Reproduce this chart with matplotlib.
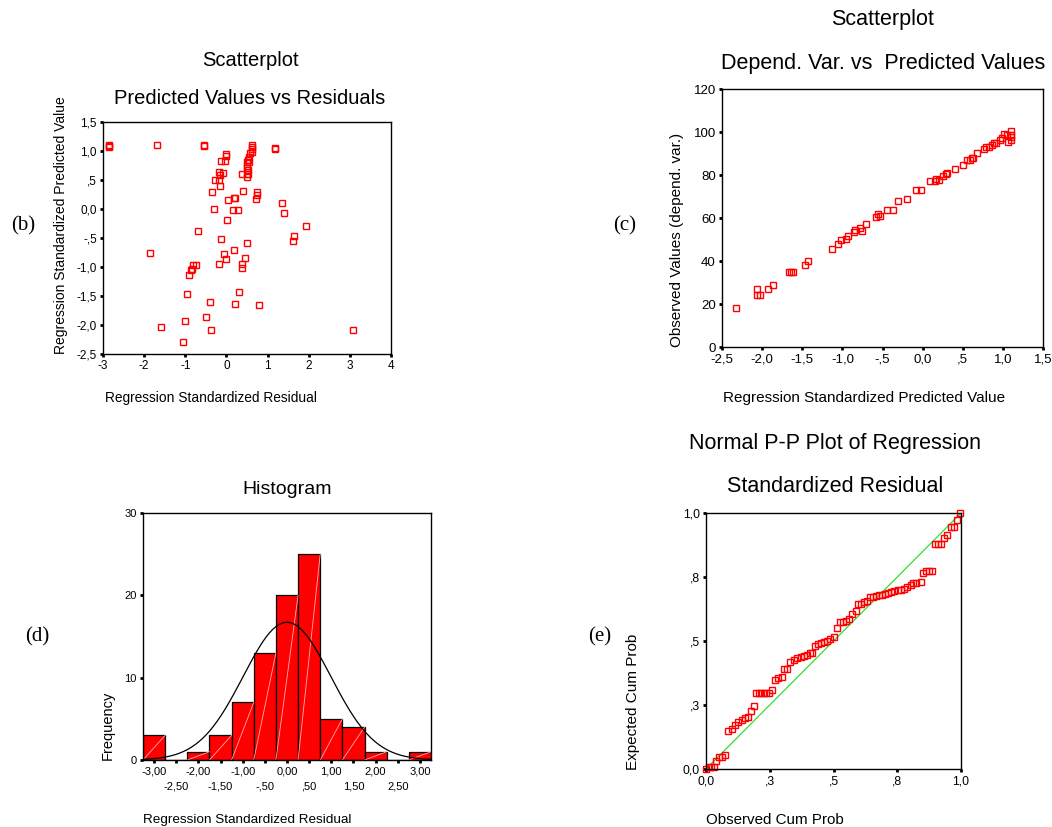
import numpy as np
import matplotlib
matplotlib.use("Agg")
import matplotlib.pyplot as plt

plt.rcParams['font.family'] = ['Liberation Sans', 'DejaVu Sans']

# (b) residual vs predicted value
b_resid = [-2.85, -2.85, -2.85, -1.68, -0.55, -0.55, 1.18, 1.18,
           -0.02, -0.01, -0.13, -0.03, -0.17, -0.09, -0.15, -0.28, -0.18, -0.15, -0.34,
           0.62, 0.62, 0.61, 0.57, 0.61, 0.56, 0.53, 0.55, 0.49, 0.49, 0.49, 0.53,
           0.49, 0.53, 0.50, 0.38, 0.41,
           0.74, 0.74, 0.72, 0.19, 0.22, 0.04, -0.29, 0.15, 0.27, 0.02,
           1.34, 1.39, 1.94, 1.65, 1.62, -0.68, -0.12, -1.86,
           0.18, -0.06, -0.01, 0.46, 0.50, 0.38, 0.38, -0.18,
           -0.73, -0.81, -0.84, -0.87, -0.90, -0.95,
           0.31, 0.22, 0.78, -0.39, -0.49, -1.00, -0.37, -1.59, -1.05, 3.08]
b_pred = [1.10, 1.07, 1.09, 1.10, 1.10, 1.09, 1.05, 1.04,
          0.955, 0.91, 0.83, 0.83, 0.64, 0.62, 0.58, 0.50, 0.50, 0.40, 0.29,
          1.11, 1.07, 1.04, 0.97, 0.98, 0.90, 0.85, 0.81, 0.81, 0.75, 0.70, 0.68,
          0.61, 0.61, 0.56, 0.60, 0.31,
          0.30, 0.25, 0.17, 0.19, 0.19, 0.16, 0.00, -0.02, -0.02, -0.19,
          0.10, -0.07, -0.29, -0.47, -0.55, -0.38, -0.51, -0.76,
          -0.71, -0.77, -0.86, -0.84, -0.58, -0.94, -1.02, -0.94,
          -0.96, -0.96, -1.04, -1.05, -1.13, -1.46,
          -1.43, -1.63, -1.65, -1.61, -1.86, -1.93, -2.08, -2.03, -2.30, -2.08]

# (c) predicted value vs observed dependent variable
c_pred = [-2.32, -2.07, -2.07, -2.03, -1.93, -1.87, -1.66, -1.64, -1.62,
          -1.47, -1.43, -1.13, -1.06, -1.02, -0.96, -0.93, -0.86, -0.84, -0.78,
          -0.76, -0.71, -0.58, -0.55, -0.53, -0.45, -0.37, -0.31, -0.20,
          -0.08, -0.02, 0.09, 0.16, 0.17, 0.20, 0.25, 0.29, 0.30, 0.40,
          0.50, 0.55, 0.59, 0.61, 0.63, 0.68, 0.77, 0.79, 0.83, 0.86, 0.89, 0.92,
          0.96, 0.99, 1.02, 1.05, 1.07, 1.10, 1.10, 1.10, 1.10]
c_obs = [18.0, 26.8, 24.2, 24.2, 26.8, 29.0, 34.9, 34.9, 34.9,
         38.1, 40.2, 45.7, 47.9, 49.8, 50.1, 51.6, 53.6, 54.4, 55.2,
         54.1, 57.2, 60.3, 61.9, 60.9, 63.7, 63.7, 68.1, 69.0,
         73.0, 73.0, 77.2, 77.4, 78.0, 77.7, 79.5, 80.5, 81.1, 82.8,
         84.8, 87.0, 87.0, 88.0, 88.0, 90.1, 92.1, 93.2, 93.2, 94.1, 94.9, 94.9,
         96.1, 97.1, 99.1, 98.6, 95.5, 100.3, 98.6, 97.5, 96.3]

# (d) histogram of standardized residuals
d_bins = [-3.0, -2.5, -2.0, -1.5, -1.0, -0.5, 0.0, 0.5, 1.0, 1.5, 2.0, 2.5, 3.0]
d_freq = [3, 0, 1, 3, 7, 13, 20, 25, 5, 4, 1, 0, 1]
d_mean, d_sd, d_n = 0.0, 0.99, 83
d_labels_top = ['-3,00', '-2,00', '-1,00', '0,00', '1,00', '2,00', '3,00']
d_labels_low = ['-2,50', '-1,50', '-,50', ',50', '1,50', '2,50']

# (e) normal P-P plot
e_obs = [0.000, 0.011, 0.021, 0.030, 0.041, 0.050, 0.063, 0.074, 0.086, 0.100,
         0.113, 0.127, 0.140, 0.153, 0.164, 0.175, 0.187, 0.195, 0.206, 0.216,
         0.227, 0.237, 0.248, 0.259, 0.270, 0.284, 0.297, 0.306, 0.319, 0.330,
         0.344, 0.358, 0.371, 0.384, 0.396, 0.408, 0.414, 0.426, 0.439, 0.451,
         0.464, 0.476, 0.488, 0.500, 0.512, 0.525, 0.537, 0.549, 0.562, 0.574,
         0.587, 0.595, 0.607, 0.620, 0.633, 0.643, 0.653, 0.666, 0.678, 0.691,
         0.703, 0.714, 0.727, 0.739, 0.752, 0.765, 0.777, 0.789, 0.802, 0.813,
         0.822, 0.842, 0.851, 0.864, 0.875, 0.887, 0.897, 0.910, 0.923, 0.934,
         0.947, 0.959, 0.972, 0.983, 0.996]
e_exp = [0.000, 0.006, 0.006, 0.006, 0.030, 0.047, 0.047, 0.056, 0.147, 0.158,
         0.171, 0.182, 0.192, 0.199, 0.205, 0.227, 0.248, 0.296, 0.296, 0.296,
         0.296, 0.296, 0.296, 0.309, 0.348, 0.355, 0.361, 0.390, 0.391, 0.419,
         0.426, 0.432, 0.439, 0.442, 0.445, 0.452, 0.455, 0.481, 0.488, 0.494,
         0.497, 0.501, 0.506, 0.514, 0.552, 0.575, 0.575, 0.579, 0.584, 0.604,
         0.617, 0.643, 0.643, 0.652, 0.657, 0.673, 0.673, 0.675, 0.679, 0.681,
         0.682, 0.688, 0.692, 0.696, 0.699, 0.699, 0.705, 0.712, 0.717, 0.725,
         0.727, 0.732, 0.764, 0.773, 0.773, 0.774, 0.878, 0.878, 0.878, 0.904,
         0.913, 0.945, 0.945, 0.971, 1.000]
e_ticks = [0, 0.25, 0.5, 0.75, 1.0]
e_labels = ['0,0', ',3', ',5', ',8', '1,0']

W, H = 1052, 827
fig = plt.figure(figsize=(W / 100, H / 100), dpi=100)


def box(l, t, r, b):
    # axes from pixel edges (top-left origin)
    ax = fig.add_axes([l / W, 1 - b / H, (r - l) / W, (b - t) / H])
    for s in ax.spines.values():
        s.set_linewidth(1.0)
    ax.tick_params(which='both', direction='out', length=2.5, width=2, colors='black', pad=2)
    return ax


def txt(x, y, s, **kw):
    kw.setdefault('ha', 'center')
    kw.setdefault('va', 'center')
    fig.text(x / W, 1 - y / H, s, **kw)


mk = dict(marker='s', ls='none', mfc='none', mec='#ff0000', ms=4.2, mew=1.0)

# ---- (b)
ax = box(103, 122, 391, 354)
ax.plot(b_resid, b_pred, **mk)
ax.set_xlim(-3, 4)
ax.set_ylim(-2.5, 1.5)
ax.set_xticks(range(-3, 5))
ax.set_xticklabels(['-3', '-2', '-1', '0', '1', '2', '3', '4'], fontsize=8.5)
ax.set_yticks([1.5, 1.0, 0.5, 0.0, -0.5, -1.0, -1.5, -2.0, -2.5])
ax.set_yticklabels(['1,5', '1,0', ',5', '0,0', '-,5', '-1,0', '-1,5', '-2,0', '-2,5'], fontsize=8.5)
txt(250, 60, 'Scatterplot', fontsize=14.5)
txt(250, 98, 'Predicted Values vs Residuals', fontsize=14.5)
txt(61, 354, 'Regression Standardized Predicted Value', rotation=90, va='bottom', fontsize=10)
txt(105, 398, 'Regression Standardized Residual', ha='left', fontsize=9.9)
txt(23, 226, '(b)', family='Liberation Serif', fontsize=15)

# ---- (c)
ax = box(722, 89, 1043, 347)
ax.plot(c_pred, c_obs, **mk)
ax.set_xlim(-2.5, 1.5)
ax.set_ylim(0, 120)
ax.set_xticks([-2.5, -2.0, -1.5, -1.0, -0.5, 0.0, 0.5, 1.0, 1.5])
ax.set_xticklabels(['-2,5', '-2,0', '-1,5', '-1,0', '-,5', '0,0', ',5', '1,0', '1,5'], fontsize=9.5)
ax.set_yticks(range(0, 121, 20))
ax.set_yticklabels([str(v) for v in range(0, 121, 20)], fontsize=9.5)
txt(882, 20, 'Scatterplot', fontsize=15.5)
txt(883, 63, 'Depend. Var. vs  Predicted Values', fontsize=15.5)
txt(677, 347, 'Observed Values (depend. var.)', rotation=90, va='bottom', fontsize=11)
txt(723, 398, 'Regression Standardized Predicted Value', ha='left', fontsize=11)
txt(625, 226, '(c)', family='Liberation Serif', fontsize=15)

# ---- (d)
ax = box(143, 513, 431, 760)
ax.bar(d_bins, d_freq, width=0.5, color='#ff0000', edgecolor='black', linewidth=0.9)
for x, h in zip(d_bins, d_freq):
    if h > 0:
        ax.plot([x - 0.25, x + 0.25], [0, h], color='#ffb0b0', lw=0.6)
xs = np.linspace(-3.25, 3.25, 300)
ys = d_n * 0.5 / (d_sd * np.sqrt(2 * np.pi)) * np.exp(-0.5 * ((xs - d_mean) / d_sd) ** 2)
ax.plot(xs, ys, color='black', lw=0.9)
ax.set_xlim(-3.25, 3.25)
ax.set_ylim(0, 30)
ax.set_xticks(d_bins[::2])
ax.set_xticklabels(d_labels_top, fontsize=8)
ax.set_xticks(d_bins[1::2], minor=True)
ax.set_xticklabels(d_labels_low, minor=True, fontsize=8)
ax.tick_params(axis='x', which='minor', pad=13)
ax.set_yticks([0, 10, 20, 30])
ax.set_yticklabels(['0', '10', '20', '30'], fontsize=8)
txt(287, 490, 'Histogram', fontsize=14)
txt(108, 760, 'Frequency', rotation=90, va='bottom', fontsize=10.5)
txt(143, 820, 'Regression Standardized Residual', ha='left', fontsize=9.7)
txt(37, 637, '(d)', family='Liberation Serif', fontsize=15)

# ---- (e)
ax = box(706, 513, 961, 769)
ax.plot([0, 1], [0, 1], color='#33dd33', lw=0.9)
ax.plot(e_obs, e_exp, **mk, clip_on=False)
ax.set_xlim(0, 1)
ax.set_ylim(0, 1)
ax.set_xticks(e_ticks)
ax.set_xticklabels(e_labels, fontsize=8.8)
ax.set_yticks(e_ticks)
ax.set_yticklabels(e_labels, fontsize=8.8)
txt(835, 443, 'Normal P-P Plot of Regression', fontsize=15.5)
txt(835, 487, 'Standardized Residual', fontsize=15.5)
txt(633, 770, 'Expected Cum Prob', rotation=90, va='bottom', fontsize=11)
txt(706, 820, 'Observed Cum Prob', ha='left', fontsize=10.9)
txt(600, 637, '(e)', family='Liberation Serif', fontsize=15)

fig.savefig('out.png', dpi=100)
